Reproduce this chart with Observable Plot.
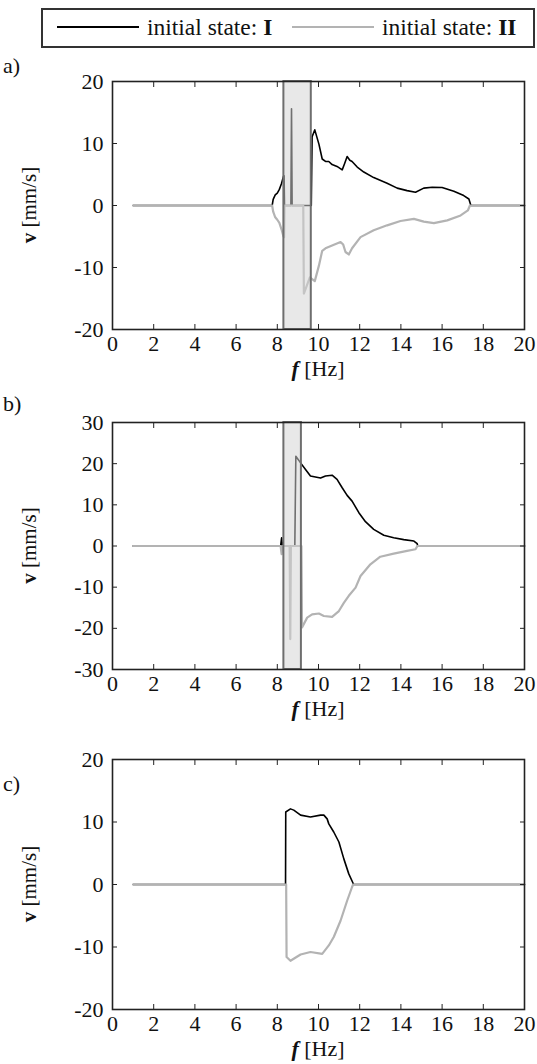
<!DOCTYPE html>
<html>
<head>
<meta charset="utf-8">
<script src="https://cdn.jsdelivr.net/npm/d3@7"></script>
<script src="https://cdn.jsdelivr.net/npm/@observablehq/plot@0.6"></script>
<style>
  html, body { margin: 0; padding: 0; background: #fff; }
  body { width: 537px; height: 1064px; position: relative; overflow: hidden; font-family: "Liberation Serif", serif; color: #111; }
  .abs { position: absolute; }
  .plabel { font-size: 22px; }
  #legend { left: 41px; top: 8px; width: 490px; height: 36px; border: 2px solid #333; }
  .lline { position: absolute; height: 0; }
  .ltext { position: absolute; font-size: 23.5px; top: 3px; white-space: nowrap; line-height: 28px; }
</style>
</head>
<body>
<div id="legend" class="abs">
  <div class="lline" style="left:14px; width:82px; top:16px; border-top:2px solid #000;"></div>
  <div class="ltext" style="left:104px;">initial state: <b>I</b></div>
  <div class="lline" style="left:249px; width:82px; top:16px; border-top:2px solid #b3b3b3;"></div>
  <div class="ltext" style="left:339px;">initial state: <b>II</b></div>
</div>
<div class="abs plabel" style="left:3px; top:53px;">a)</div>
<div class="abs plabel" style="left:3px; top:391px;">b)</div>
<div class="abs plabel" style="left:3px; top:771px;">c)</div>
<div id="pa" class="abs" style="left:0; top:60px;"></div>
<div id="pb" class="abs" style="left:0; top:401px;"></div>
<div id="pc" class="abs" style="left:0; top:738px;"></div>
<script>
// ---- data ----
const xTicks = [0, 2, 4, 6, 8, 10, 12, 14, 16, 18, 20];
const yTicksA = [-20, -10, 0, 10, 20];
const yTicksB = [-30, -20, -10, 0, 10, 20, 30];
const yTicksC = [-20, -10, 0, 10, 20];
const shadeA = [8.32, 9.65];
const shadeB = [8.32, 9.17];

// panel a, initial state I  [f (Hz), v (mm/s)]
const aI = [[1,0],[7.75,0],[7.8,1.0],[7.9,1.7],[8.0,2.0],[8.1,2.6],[8.2,3.5],[8.3,4.7],[8.33,4.8],[8.35,0],
  [8.66,0],[8.69,15.6],[8.72,0],[9.65,0],[9.69,11.1],[9.82,12.2],[10.02,9.9],[10.18,7.5],[10.34,7.1],[10.5,7.1],
  [10.66,6.6],[10.9,6.3],[11.15,5.75],[11.26,6.7],[11.39,7.9],[11.52,7.3],[11.63,7.1],[11.88,6.2],[12.2,5.4],
  [12.68,4.5],[13.33,3.6],[13.82,2.8],[14.3,2.4],[14.71,2.15],[15.11,2.8],[15.52,2.95],[16.0,2.9],[16.57,2.3],
  [17.05,1.6],[17.3,1.05],[17.38,0.2],[17.4,0],[20,0]];
// panel a, initial state II
const aII = [[1,0],[7.75,0],[7.8,-1.0],[7.9,-1.9],[8.0,-2.3],[8.1,-2.8],[8.2,-3.8],[8.3,-5.0],[8.33,-5.1],[8.35,0],
  [9.26,0],[9.29,-14.2],[9.58,-11.6],[9.82,-12.2],[10.02,-9.7],[10.18,-7.3],[10.34,-6.9],[10.66,-6.45],[11.07,-5.9],
  [11.2,-6.3],[11.31,-7.5],[11.47,-7.9],[11.63,-6.9],[12.04,-5.1],[12.68,-4.0],[13.33,-3.2],[13.98,-2.5],[14.63,-2.15],
  [15.11,-2.6],[15.6,-2.85],[16.25,-2.4],[16.9,-1.6],[17.25,-0.8],[17.35,0],[20,0]];

// panel b, initial state I
const bI = [[1,0],[8.16,0],[8.19,1.2],[8.21,2.0],[8.23,0.8],[8.25,0],[8.85,0],[8.9,21.8],[9.13,20.2],[9.37,18.6],
  [9.61,17.0],[9.85,16.75],[10.1,16.5],[10.34,17.0],[10.66,17.2],[10.9,16.2],[11.15,14.15],[11.39,12.3],[11.63,10.9],
  [11.96,8.1],[12.28,5.9],[12.68,4.05],[13.17,2.6],[13.65,2.0],[14.14,1.55],[14.63,1.2],[14.79,0.55],[14.82,0],[20,0]];
// panel b, initial state II
const bII = [[1,0],[8.16,0],[8.19,-1.2],[8.21,-2.0],[8.23,-0.8],[8.25,0],[8.6,0],[8.63,-22.6],[8.66,0],[9.17,0],
  [9.2,-19.8],[9.45,-17.4],[9.69,-16.6],[10.02,-16.4],[10.26,-17.0],[10.66,-17.2],[10.99,-15.8],[11.23,-13.8],
  [11.47,-12.1],[11.8,-10.1],[12.04,-7.3],[12.52,-4.45],[13.0,-2.6],[13.65,-1.85],[14.3,-1.2],[14.71,-0.8],[14.8,0],[20,0]];

// panel c, initial state I
const cI = [[1,0],[8.4,0],[8.41,11.6],[8.64,12.1],[8.8,11.9],[9.13,11.1],[9.61,10.8],[10.1,11.1],[10.26,11.1],
  [10.42,10.5],[10.5,9.7],[10.74,8.4],[10.99,6.8],[11.23,4.1],[11.47,1.7],[11.68,0.2],[11.7,0],[20,0]];
// panel c, initial state II
const cII = [[1,0],[8.43,0],[8.45,-11.6],[8.64,-12.2],[9.13,-11.2],[9.61,-10.8],[10.18,-11.1],[10.5,-9.75],
  [10.74,-8.4],[11.07,-5.8],[11.39,-2.6],[11.63,-0.4],[11.68,0],[20,0]];

const FONT = "Liberation Serif";

function panel(el, black, gray, yDomain, yTicks, shade, plotH, marginBottom, xLabelOffset) {
  const marginTop = 21;
  const marks = [
    Plot.line(black, {x: d => d[0], y: d => d[1], stroke: "#000", strokeWidth: 1.6}),
    Plot.line(gray, {x: d => d[0], y: d => d[1], stroke: "#b3b3b3", strokeWidth: 2.2})
  ];
  if (shade) {
    marks.push(Plot.rect([shade], {x1: d => d[0], x2: d => d[1], y1: yDomain[0], y2: yDomain[1],
      fill: "#d3d3d3", fillOpacity: 0.53, stroke: "#6e6e6e", strokeWidth: 2}));
  }
  marks.push(
    Plot.axisX({anchor: "bottom", ticks: xTicks, tickSize: -5, tickPadding: 11, tickFormat: d => String(d), stroke: "#222", label: null, fontSize: 22}),
    Plot.axisX({anchor: "top", ticks: xTicks, tickSize: -5, tickFormat: () => "", stroke: "#222", label: null}),
    Plot.axisY({anchor: "left", ticks: yTicks, tickSize: -5, tickPadding: 14, tickFormat: d => String(d), stroke: "#222", label: null, fontSize: 22}),
    Plot.axisY({anchor: "right", ticks: yTicks, tickSize: -5, tickFormat: () => "", stroke: "#222", label: null}),
    Plot.frame({stroke: "#222", strokeWidth: 1.6})
  );
  const chart = Plot.plot({
    width: 537,
    height: marginTop + plotH + marginBottom,
    marginLeft: 112, marginRight: 13, marginTop, marginBottom,
    style: {fontFamily: FONT, fontSize: "22px", background: "transparent", color: "#111"},
    x: {domain: [0, 20], label: null},
    y: {domain: yDomain, label: null},
    marks
  });
  const svg = d3.select(chart);
  // y label
  const yl = svg.append("text")
    .attr("transform", `translate(36,${marginTop + plotH / 2}) rotate(-90)`)
    .attr("text-anchor", "middle")
    .style("font-family", FONT).style("font-size", "21px").attr("fill", "#111");
  yl.append("tspan").attr("font-weight", "bold").text("v");
  yl.append("tspan").text(" [mm/s]");
  // x label
  const xl = svg.append("text")
    .attr("x", 318).attr("y", marginTop + plotH + xLabelOffset)
    .attr("text-anchor", "middle")
    .style("font-family", FONT).style("font-size", "22px").attr("fill", "#111");
  xl.append("tspan").attr("font-weight", "bold").attr("font-style", "italic").text("f");
  xl.append("tspan").text(" [Hz]");
  document.getElementById(el).appendChild(chart);
}

panel("pa", aI, aII, [-20, 20], yTicksA, shadeA, 248, 55, 47);
panel("pb", bI, bII, [-30, 30], yTicksB, shadeB, 247, 55, 47);
panel("pc", cI, cII, [-20, 20], yTicksC, null, 250, 55, 47);
</script>
</body>
</html>
